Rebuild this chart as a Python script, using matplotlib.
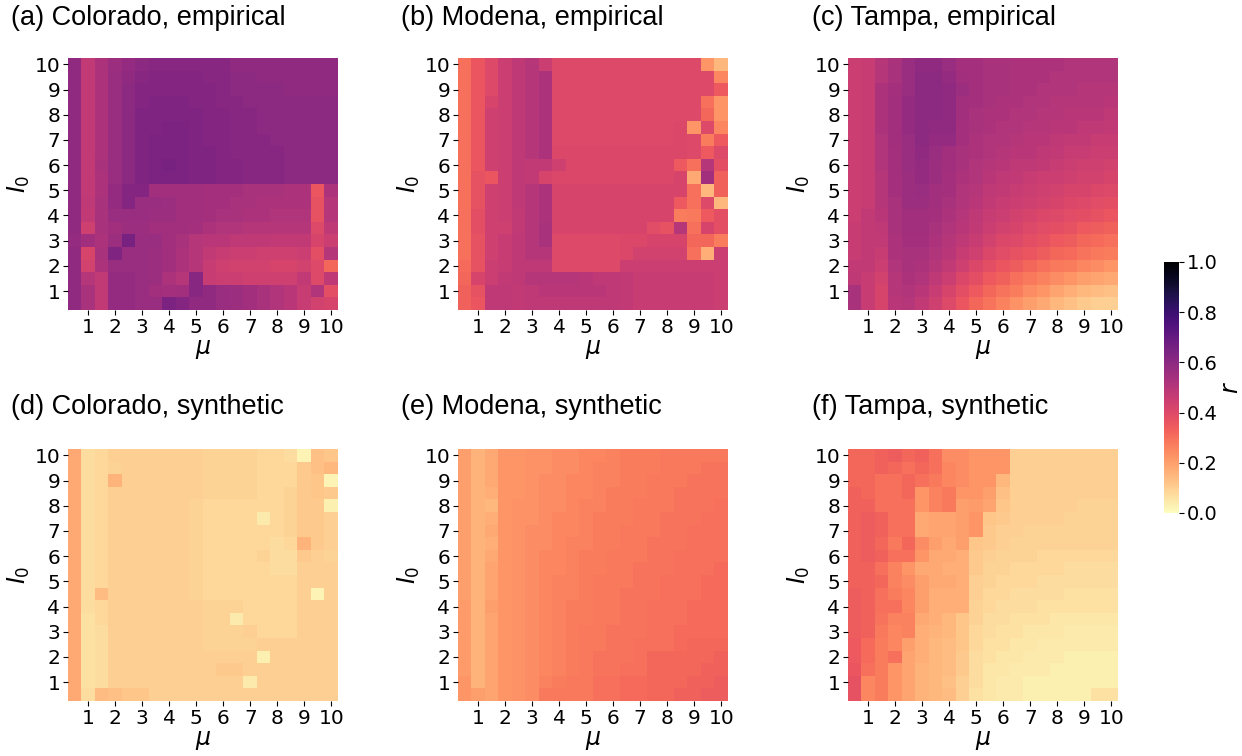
import matplotlib.pyplot as plt
import numpy as np

plt.rcParams['font.family'] = ['DejaVu Sans']

# grid: mu and I0 both 0.5 .. 10 in steps of 0.5
mu_vals = np.arange(1, 21) * 0.5
i0_vals = np.arange(1, 21) * 0.5
tick_vals = [1, 2, 3, 4, 5, 6, 7, 8, 9, 10]

# r values (in %), rows from I0 = 10 (top) down to I0 = 0.5, columns mu = 0.5 .. 10
colorado_emp = [
    [59, 47, 52, 56, 58, 60, 61, 61, 61, 61, 61, 61, 59, 59, 59, 59, 59, 59, 59, 59],
    [59, 47, 52, 57, 59, 61, 62, 62, 62, 62, 61, 61, 60, 60, 59, 59, 59, 59, 59, 59],
    [59, 47, 52, 57, 60, 62, 62, 62, 62, 62, 62, 61, 60, 60, 60, 60, 59, 59, 59, 59],
    [59, 47, 52, 57, 60, 62, 63, 63, 63, 62, 62, 61, 61, 60, 60, 60, 60, 60, 60, 60],
    [59, 47, 52, 57, 60, 63, 63, 63, 63, 63, 62, 62, 61, 61, 60, 60, 60, 60, 60, 60],
    [59, 47, 52, 57, 60, 63, 63, 64, 64, 63, 62, 62, 61, 61, 60, 60, 60, 60, 60, 60],
    [59, 47, 52, 57, 60, 63, 64, 64, 64, 63, 62, 62, 61, 61, 61, 60, 60, 60, 60, 60],
    [59, 47, 52, 57, 60, 63, 64, 64, 64, 63, 63, 62, 61, 61, 61, 61, 60, 60, 60, 60],
    [59, 47, 53, 57, 60, 63, 64, 65, 64, 63, 63, 62, 62, 61, 61, 61, 60, 60, 60, 60],
    [59, 47, 52, 57, 60, 63, 64, 64, 64, 63, 63, 62, 62, 61, 61, 61, 60, 60, 60, 60],
    [59, 47, 52, 58, 62, 62, 55, 55, 55, 55, 54, 54, 54, 53, 53, 53, 52, 52, 36, 52],
    [59, 48, 53, 58, 62, 57, 57, 56, 55, 55, 54, 54, 53, 53, 52, 52, 52, 52, 37, 50],
    [59, 47, 53, 57, 57, 57, 56, 56, 55, 55, 54, 53, 53, 52, 52, 51, 51, 51, 37, 50],
    [59, 44, 53, 55, 56, 56, 55, 55, 55, 54, 52, 51, 51, 50, 50, 50, 50, 50, 40, 48],
    [58, 55, 52, 56, 65, 57, 57, 55, 53, 50, 49, 49, 48, 48, 48, 47, 47, 47, 42, 45],
    [59, 42, 53, 63, 57, 57, 56, 55, 52, 50, 47, 46, 45, 45, 44, 44, 44, 45, 38, 50],
    [59, 43, 52, 57, 57, 57, 56, 55, 52, 50, 46, 44, 43, 43, 43, 42, 42, 43, 40, 32],
    [59, 50, 47, 58, 58, 57, 56, 52, 50, 61, 46, 45, 45, 44, 44, 44, 44, 47, 40, 48],
    [59, 53, 47, 58, 58, 57, 55, 54, 55, 61, 59, 57, 56, 55, 53, 51, 49, 46, 51, 38],
    [59, 53, 47, 58, 58, 57, 57, 64, 62, 59, 59, 57, 56, 55, 53, 51, 49, 46, 43, 42],
]

modena_emp = [
    [30, 36, 40, 45, 48, 50, 45, 40, 40, 40, 40, 40, 40, 40, 40, 40, 40, 40, 22, 15],
    [30, 36, 40, 45, 48, 50, 52, 40, 40, 40, 40, 40, 40, 40, 40, 40, 40, 40, 40, 25],
    [30, 36, 40, 45, 48, 50, 52, 40, 40, 40, 40, 40, 40, 40, 40, 40, 40, 40, 40, 35],
    [30, 36, 42, 45, 48, 50, 52, 40, 40, 40, 40, 40, 40, 40, 40, 40, 40, 40, 30, 22],
    [30, 36, 44, 45, 48, 50, 52, 40, 40, 40, 40, 40, 40, 40, 40, 40, 40, 40, 32, 22],
    [30, 36, 44, 45, 48, 50, 52, 40, 40, 40, 40, 40, 40, 40, 40, 40, 41, 22, 40, 25],
    [30, 36, 44, 45, 48, 50, 52, 40, 40, 40, 40, 40, 40, 40, 40, 40, 41, 40, 27, 35],
    [30, 36, 44, 45, 48, 50, 52, 41, 41, 41, 41, 41, 41, 41, 41, 41, 41, 40, 35, 40],
    [30, 36, 44, 45, 48, 47, 47, 44, 41, 41, 41, 41, 41, 41, 41, 41, 35, 30, 50, 38],
    [30, 37, 36, 45, 48, 47, 42, 41, 41, 41, 41, 41, 41, 41, 41, 41, 42, 18, 55, 33],
    [30, 37, 44, 45, 48, 50, 52, 42, 42, 42, 42, 42, 42, 42, 42, 42, 42, 30, 15, 33],
    [30, 37, 44, 45, 48, 50, 52, 42, 42, 42, 42, 42, 42, 42, 42, 42, 35, 30, 40, 15],
    [30, 38, 44, 45, 47, 50, 52, 42, 42, 42, 42, 42, 42, 42, 42, 42, 27, 28, 35, 38],
    [30, 38, 44, 44, 47, 50, 53, 42, 42, 42, 42, 42, 42, 42, 39, 37, 50, 30, 42, 38],
    [30, 37, 44, 46, 48, 50, 53, 40, 40, 40, 40, 40, 41, 41, 42, 42, 42, 32, 32, 27],
    [30, 37, 44, 46, 48, 50, 50, 40, 40, 40, 40, 40, 41, 43, 43, 43, 43, 30, 17, 45],
    [31, 37, 45, 46, 48, 48, 48, 40, 40, 40, 40, 40, 45, 45, 45, 45, 45, 45, 45, 45],
    [32, 42, 45, 47, 48, 50, 50, 50, 50, 49, 48, 48, 47, 46, 46, 46, 46, 46, 46, 45],
    [33, 37, 48, 48, 47, 48, 49, 49, 49, 49, 49, 48, 47, 46, 46, 46, 46, 46, 46, 45],
    [33, 36, 48, 48, 47, 48, 48, 48, 48, 48, 48, 48, 47, 46, 46, 46, 46, 46, 46, 45],
]

tampa_emp = [
    [45, 46, 50, 53, 57, 59, 59, 57, 54, 54, 53, 53, 52, 52, 52, 52, 51, 51, 51, 51],
    [45, 46, 50, 53, 57, 60, 60, 58, 55, 54, 53, 53, 52, 52, 52, 51, 51, 51, 51, 51],
    [45, 46, 52, 54, 57, 60, 60, 59, 56, 54, 53, 53, 52, 52, 51, 51, 51, 50, 50, 50],
    [45, 46, 52, 55, 58, 60, 60, 59, 55, 54, 53, 52, 52, 51, 51, 50, 50, 50, 50, 49],
    [45, 46, 52, 55, 58, 60, 60, 59, 55, 53, 52, 52, 51, 51, 50, 50, 49, 49, 49, 48],
    [45, 46, 52, 55, 58, 60, 59, 59, 54, 53, 52, 51, 51, 50, 50, 49, 49, 48, 48, 47],
    [45, 46, 51, 55, 57, 60, 58, 58, 54, 52, 51, 51, 50, 49, 49, 48, 47, 47, 46, 46],
    [45, 46, 51, 54, 57, 59, 57, 55, 53, 52, 51, 50, 49, 49, 48, 47, 46, 46, 45, 45],
    [45, 46, 51, 54, 57, 58, 56, 55, 53, 51, 50, 49, 48, 48, 47, 46, 45, 44, 44, 43],
    [45, 46, 50, 54, 56, 58, 56, 54, 52, 51, 49, 48, 47, 46, 45, 45, 44, 43, 43, 42],
    [45, 46, 50, 54, 56, 57, 55, 54, 51, 50, 48, 47, 46, 45, 44, 43, 42, 42, 41, 40],
    [45, 46, 50, 53, 56, 56, 55, 53, 51, 49, 47, 46, 45, 44, 43, 42, 41, 40, 39, 38],
    [45, 47, 49, 53, 55, 55, 54, 52, 50, 48, 46, 45, 43, 42, 41, 40, 39, 38, 37, 36],
    [46, 47, 48, 53, 55, 55, 53, 51, 49, 47, 45, 43, 42, 40, 39, 38, 37, 35, 34, 33],
    [46, 47, 47, 52, 54, 54, 52, 50, 48, 46, 43, 41, 40, 38, 37, 35, 34, 32, 31, 30],
    [46, 47, 46, 52, 53, 53, 51, 49, 46, 44, 41, 39, 37, 36, 34, 32, 31, 29, 28, 27],
    [47, 47, 45, 51, 53, 52, 50, 47, 44, 41, 38, 36, 34, 32, 30, 28, 27, 25, 24, 22],
    [48, 46, 43, 50, 52, 51, 48, 45, 41, 38, 35, 33, 30, 28, 26, 24, 22, 20, 19, 18],
    [53, 46, 42, 50, 51, 49, 46, 42, 38, 35, 32, 29, 27, 24, 22, 19, 17, 15, 14, 13],
    [53, 46, 42, 49, 50, 47, 44, 40, 36, 32, 29, 26, 23, 20, 18, 15, 13, 11, 10, 10],
]

colorado_syn = [
    [18, 7, 8, 10, 10, 10, 10, 10, 10, 10, 9, 9, 9, 9, 8, 8, 7, 2, 13, 12],
    [18, 7, 8, 9, 10, 10, 10, 10, 10, 10, 9, 9, 9, 9, 8, 8, 8, 11, 13, 15],
    [18, 7, 8, 16, 10, 10, 10, 10, 10, 10, 9, 9, 9, 9, 8, 8, 8, 11, 12, 2],
    [18, 7, 8, 10, 10, 10, 10, 10, 10, 10, 9, 9, 9, 9, 8, 8, 9, 11, 12, 11],
    [18, 7, 8, 10, 10, 10, 10, 10, 10, 9, 8, 8, 8, 8, 8, 8, 9, 11, 11, 3],
    [18, 7, 8, 10, 10, 10, 10, 10, 10, 9, 8, 8, 8, 8, 4, 8, 9, 11, 11, 10],
    [18, 7, 8, 10, 10, 10, 10, 10, 10, 9, 8, 8, 8, 8, 8, 8, 9, 11, 11, 10],
    [18, 7, 8, 10, 10, 10, 10, 10, 10, 9, 8, 8, 8, 8, 8, 7, 8, 16, 11, 10],
    [18, 7, 8, 10, 10, 10, 10, 10, 10, 9, 8, 8, 8, 8, 9, 7, 7, 11, 10, 9],
    [18, 7, 8, 10, 10, 10, 10, 10, 10, 9, 8, 8, 8, 8, 8, 7, 7, 10, 10, 10],
    [18, 7, 8, 10, 10, 10, 10, 10, 10, 9, 8, 8, 8, 8, 8, 8, 8, 10, 10, 10],
    [18, 7, 14, 10, 10, 10, 10, 10, 10, 9, 8, 8, 8, 8, 8, 8, 8, 10, 2, 10],
    [18, 7, 8, 10, 10, 10, 10, 10, 10, 10, 9, 9, 9, 8, 8, 8, 8, 10, 10, 10],
    [18, 6, 8, 10, 10, 10, 10, 10, 10, 10, 9, 9, 4, 8, 8, 8, 8, 10, 10, 10],
    [18, 6, 7, 10, 10, 10, 10, 10, 10, 10, 9, 9, 9, 10, 8, 8, 8, 10, 10, 10],
    [18, 6, 7, 10, 10, 10, 10, 10, 10, 10, 9, 9, 9, 9, 10, 10, 10, 10, 10, 10],
    [18, 6, 7, 10, 10, 10, 10, 10, 10, 10, 10, 10, 10, 10, 3, 10, 10, 10, 10, 10],
    [18, 6, 7, 10, 10, 10, 10, 10, 10, 10, 10, 11, 11, 10, 10, 10, 10, 10, 10, 10],
    [18, 6, 7, 10, 10, 10, 10, 10, 10, 10, 10, 10, 10, 4, 10, 10, 10, 10, 10, 10],
    [18, 7, 14, 13, 12, 12, 10, 10, 10, 10, 10, 10, 10, 10, 10, 10, 10, 10, 10, 10],
]

modena_syn = [
    [20, 16, 18, 22, 22, 23, 23, 24, 24, 25, 25, 26, 27, 27, 27, 28, 28, 28, 28, 28],
    [20, 16, 18, 22, 22, 23, 23, 24, 24, 25, 26, 26, 27, 27, 27, 28, 28, 28, 29, 29],
    [20, 16, 18, 22, 22, 23, 24, 24, 25, 25, 26, 26, 27, 27, 28, 28, 28, 29, 29, 29],
    [20, 16, 17, 22, 22, 23, 24, 24, 25, 25, 26, 27, 27, 27, 28, 28, 29, 29, 29, 29],
    [20, 16, 15, 22, 23, 23, 24, 24, 25, 26, 26, 27, 27, 28, 28, 28, 29, 29, 29, 30],
    [20, 16, 17, 22, 23, 23, 24, 25, 25, 26, 27, 27, 27, 28, 28, 29, 29, 29, 30, 30],
    [20, 16, 18, 22, 23, 24, 24, 25, 25, 26, 27, 27, 28, 28, 28, 29, 29, 30, 30, 30],
    [20, 16, 17, 22, 23, 24, 24, 25, 26, 26, 27, 27, 28, 28, 29, 29, 29, 30, 30, 30],
    [20, 16, 18, 22, 23, 24, 25, 25, 26, 27, 27, 28, 28, 28, 29, 29, 30, 30, 30, 30],
    [20, 16, 19, 22, 23, 24, 25, 25, 26, 27, 27, 28, 28, 29, 29, 29, 30, 30, 30, 31],
    [20, 16, 19, 22, 23, 24, 25, 26, 26, 27, 28, 28, 28, 29, 29, 30, 30, 30, 31, 31],
    [20, 16, 19, 22, 23, 24, 25, 26, 26, 27, 28, 28, 29, 29, 29, 30, 30, 30, 31, 31],
    [21, 16, 20, 22, 23, 24, 25, 26, 27, 27, 28, 28, 29, 29, 30, 30, 30, 31, 31, 31],
    [21, 16, 19, 22, 23, 24, 25, 26, 27, 27, 28, 28, 29, 29, 30, 30, 30, 31, 31, 31],
    [21, 16, 19, 22, 23, 24, 25, 26, 27, 28, 28, 29, 29, 29, 30, 30, 31, 31, 31, 31],
    [21, 16, 19, 22, 23, 24, 25, 26, 27, 28, 28, 29, 29, 30, 30, 30, 31, 32, 32, 32],
    [21, 16, 19, 22, 23, 24, 25, 26, 27, 28, 29, 29, 29, 30, 32, 32, 32, 32, 32, 33],
    [21, 16, 19, 22, 23, 24, 25, 26, 27, 28, 29, 29, 30, 30, 32, 32, 32, 32, 33, 33],
    [22, 16, 19, 22, 23, 24, 26, 27, 28, 28, 30, 30, 31, 31, 32, 32, 32, 33, 33, 34],
    [22, 20, 19, 22, 23, 24, 28, 28, 28, 28, 30, 30, 31, 31, 32, 32, 33, 33, 34, 34],
]

tampa_syn = [
    [32, 32, 33, 34, 32, 33, 30, 24, 24, 22, 22, 22, 10, 10, 10, 10, 10, 10, 10, 10],
    [32, 32, 33, 32, 30, 32, 30, 25, 24, 22, 22, 22, 10, 10, 10, 10, 10, 10, 10, 10],
    [32, 32, 30, 30, 32, 30, 28, 25, 24, 22, 22, 15, 10, 10, 10, 10, 10, 10, 10, 10],
    [33, 32, 30, 30, 32, 22, 26, 28, 22, 22, 20, 13, 10, 10, 10, 10, 10, 10, 10, 10],
    [33, 33, 30, 30, 30, 22, 26, 28, 20, 21, 19, 12, 10, 10, 10, 10, 10, 9, 9, 9],
    [33, 34, 33, 30, 30, 18, 19, 19, 20, 22, 12, 11, 10, 10, 10, 10, 9, 9, 9, 9],
    [33, 34, 33, 30, 30, 18, 19, 19, 20, 22, 11, 10, 10, 9, 9, 9, 9, 9, 9, 9],
    [33, 34, 32, 28, 32, 24, 20, 18, 20, 12, 11, 10, 9, 9, 9, 9, 9, 9, 9, 9],
    [33, 34, 33, 30, 30, 22, 18, 18, 17, 11, 10, 9, 9, 9, 8, 8, 8, 8, 8, 8],
    [33, 33, 30, 26, 22, 18, 18, 17, 17, 11, 9, 9, 8, 8, 8, 8, 7, 7, 7, 7],
    [33, 33, 32, 26, 24, 20, 18, 18, 17, 10, 9, 8, 8, 8, 7, 7, 7, 7, 7, 7],
    [34, 33, 30, 27, 25, 20, 17, 17, 17, 10, 8, 8, 7, 7, 7, 7, 6, 6, 6, 6],
    [34, 33, 30, 30, 25, 20, 17, 17, 17, 9, 8, 7, 7, 7, 6, 6, 6, 6, 6, 6],
    [34, 33, 29, 26, 26, 18, 17, 15, 12, 9, 7, 7, 6, 6, 6, 5, 5, 5, 5, 5],
    [34, 33, 28, 25, 26, 17, 16, 15, 12, 8, 7, 6, 6, 5, 5, 5, 4, 4, 4, 4],
    [35, 31, 27, 25, 20, 17, 15, 14, 12, 8, 6, 6, 5, 5, 4, 4, 4, 4, 4, 4],
    [35, 31, 27, 30, 19, 17, 15, 14, 11, 7, 6, 5, 5, 4, 4, 4, 3, 3, 3, 3],
    [36, 30, 27, 22, 19, 16, 15, 14, 11, 7, 5, 5, 4, 4, 4, 3, 3, 3, 3, 3],
    [37, 25, 27, 22, 19, 16, 15, 13, 10, 7, 5, 4, 4, 3, 3, 3, 3, 3, 3, 3],
    [37, 25, 27, 22, 19, 16, 15, 14, 10, 6, 5, 4, 4, 3, 3, 3, 3, 3, 6, 6],
]

titles = ["(a) Colorado, empirical", "(b) Modena, empirical", "(c) Tampa, empirical",
          "(d) Colorado, synthetic", "(e) Modena, synthetic", "(f) Tampa, synthetic"]
panels = [colorado_emp, modena_emp, tampa_emp, colorado_syn, modena_syn, tampa_syn]

W, H = 1242, 756
fig = plt.figure(figsize=(W / 100, H / 100), dpi=100)

lefts = [68, 458, 848]
tops = [58, 449]
ax_w, ax_h = 270, 252
title_x = [11, 401, 812]
title_y = [5, 394]

step = mu_vals[1] - mu_vals[0]
extent = [mu_vals[0] - step / 2, mu_vals[-1] + step / 2,
          i0_vals[0] - step / 2, i0_vals[-1] + step / 2]

im = None
for k, (data, title) in enumerate(zip(panels, titles)):
    row, col = divmod(k, 3)
    ax = fig.add_axes([lefts[col] / W, 1 - (tops[row] + ax_h) / H, ax_w / W, ax_h / H])
    im = ax.imshow(np.array(data) / 100, cmap='magma_r', vmin=0, vmax=1,
                   aspect='auto', extent=extent, origin='upper', interpolation='nearest')
    ax.set_xticks(tick_vals)
    ax.set_yticks(tick_vals)
    ax.tick_params(labelsize=14.5, pad=2)
    for s in ax.spines.values():
        s.set_visible(False)
    ax.set_xlabel(r'$\mu$', fontsize=17, labelpad=0)
    ax.set_ylabel(r'$I_0$', fontsize=17, labelpad=2)
    fig.text(title_x[col] / W, 1 - title_y[row] / H, title, fontsize=19.5,
             family='Liberation Sans', ha='left', va='top')

cax = fig.add_axes([1164 / W, 1 - 513 / H, 15 / W, 251 / H])
cb = fig.colorbar(im, cax=cax, ticks=[0, 0.2, 0.4, 0.6, 0.8, 1.0])
cb.outline.set_visible(False)
cb.ax.tick_params(labelsize=14, pad=2)
cb.set_label(r'$r$', fontsize=17, labelpad=1)

plt.savefig('out.png', dpi=100)
